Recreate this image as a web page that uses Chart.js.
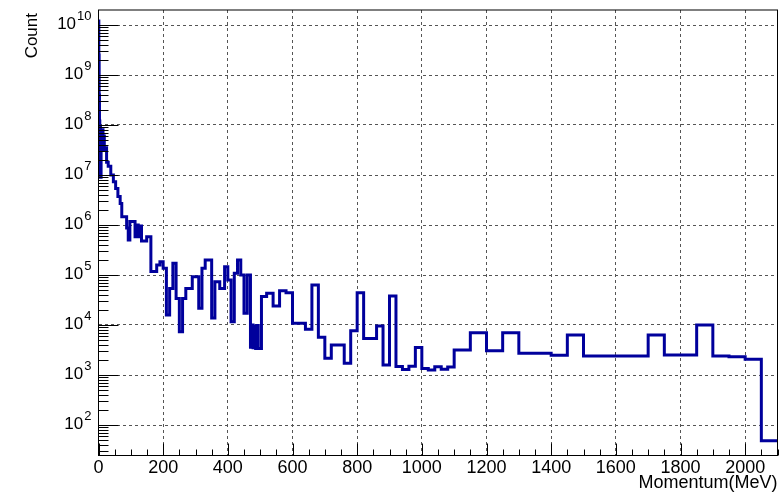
<!DOCTYPE html>
<html>
<head>
<meta charset="utf-8">
<script src="https://cdn.jsdelivr.net/npm/chart.js@4/dist/chart.umd.min.js"></script>
<style>
  html, body { margin: 0; padding: 0; background: #fff; }
  canvas { display: block; }
</style>
</head>
<body>
<canvas id="c" width="779" height="492"></canvas>
<script>
// ---- data (histogram bin edges in MeV and counts per bin) ----
const binEdges = [0,1,2,3,4,6,8,10,12,14,16,18,20,25,30,38,46,53,60,67,72,87,92,97,113,118,123,128,133,149,162,
  180,190,200,210,220,230,240,250,260,270,290,310,320,330,350,360,375,390,400,410,420,430,440,450,460,470,
  474,478,482,486,490,494,504,520,540,560,580,600,640,660,680,700,720,760,780,800,820,860,880,900,
  920,940,960,980,1000,1020,1040,1060,1080,1100,1150,1200,1250,1300,1400,1450,1500,1700,1750,1850,1900,1950,2000,2050,2100];
const binCounts = [1.2e10,2.5e9,4e8,1.2e8,9e7,9e6,6e7,3.2e7,8e7,3.5e7,6e7,3.2e7,3.5e7,1.8e7,1.5e7,1e7,7.3e6,5.4e6,3.7e6,2.7e6,
  1.47e6,8.7e5,5e5,1.17e6,5.8e5,1e6,5.8e5,9.5e5,4.8e5,5.8e5,
  1.17e5,1.58e5,1.85e5,1.36e5,1.58e4,5.4e4,1.71e5,3.4e4,7.3e3,3.4e4,5.4e4,9.25e4,2.16e4,1.36e5,2e5,1.38e4,7.3e4,5.4e4,
  1.47e5,7.9e4,1.16e4,1.08e5,2e5,1e5,1.71e4,1e5,
  3.6e3,1e4,3.5e3,9.5e3,3.4e3,9.8e3,3.4e3,3.7e4,4.3e4,2.4e4,4.85e4,4.43e4,
  1.08e4,8.2e3,6.3e4,5.7e3,2.16e3,4e3,1.71e3,7.7e3,4.4e4,5.4e3,9.5e3,1.58e3,
  3.8e4,1480,1290,1490,3550,1350,1260,1470,1300,1445,
  3162,7020,3060,7020,2720,2480,6310,2400,6310,2510,10000,2400,2320,2060,48.5];

// ---- axes ----
const xMin = 0, xMax = 2100;
const xTickLabels = [0,200,400,600,800,1000,1200,1400,1600,1800,2000];
const xMinorStep = 50;
const yMinLog = 1.39, yMaxLog = 10.3;
const yTickExponents = [2,3,4,5,6,7,8,9,10];
const xTitle = 'Momentum(MeV)';
const yTitle = 'Count';

// histogram outline: point at each lower edge carries that bin's count; last edge repeats the last count
const points = binEdges.map((e, i) => ({ x: e, y: binCounts[Math.min(i, binCounts.length - 1)] }));

const FONT = '"Liberation Sans", Arial, Helvetica, sans-serif';

const rootAxes = {
  id: 'rootAxes',
  afterDraw(chart) {
    const { ctx, chartArea: a, scales: { x, y } } = chart;
    ctx.save();
    ctx.strokeStyle = '#000';
    ctx.lineWidth = 1;
    ctx.strokeRect(a.left, a.top, a.right - a.left, a.bottom - a.top);
    ctx.beginPath();
    for (let v = xMin; v <= xMax; v += xMinorStep) {
      const px = Math.round(x.getPixelForValue(v)) + 0.5;
      const major = xTickLabels.includes(v);
      const len = major ? 12 : 6;
      ctx.moveTo(px, a.bottom);
      ctx.lineTo(px, a.bottom - len);
    }
    for (let e = Math.floor(yMinLog); e <= Math.ceil(yMaxLog); e++) {
      for (let m = 1; m <= 9; m++) {
        const v = m * Math.pow(10, e);
        const lv = Math.log10(v);
        if (lv < yMinLog || lv > yMaxLog) continue;
        const py = Math.round(y.getPixelForValue(v)) + 0.5;
        const len = m === 1 ? 20 : 10;
        ctx.moveTo(a.left, py);
        ctx.lineTo(a.left + len, py);
      }
    }
    ctx.stroke();

    ctx.fillStyle = '#000';
    ctx.font = '18px ' + FONT;
    ctx.textAlign = 'center';
    ctx.textBaseline = 'middle';
    xTickLabels.forEach(v => {
      ctx.fillText(String(v), x.getPixelForValue(v), a.bottom + 12.5);
    });
    ctx.textAlign = 'right';
    ctx.fillText(xTitle, a.right, a.bottom + 28);

    yTickExponents.forEach(n => {
      const py = y.getPixelForValue(Math.pow(10, n));
      const sup = String(n);
      ctx.font = '13px ' + FONT;
      const sw = ctx.measureText(sup).width;
      ctx.font = '17px ' + FONT;
      const bw = ctx.measureText('10').width;
      const right = a.left - 7;
      ctx.textAlign = 'left';
      ctx.textBaseline = 'middle';
      ctx.fillText('10', right - sw - bw - 1, py - 1);
      ctx.font = '13px ' + FONT;
      ctx.fillText(sup, right - sw, py - 8.5);
    });

    ctx.font = '17px ' + FONT;
    ctx.translate(32, a.top + 3);
    ctx.rotate(-Math.PI / 2);
    ctx.textAlign = 'right';
    ctx.textBaseline = 'middle';
    ctx.fillText(yTitle, 0, 0);
    ctx.restore();
  }
};

new Chart(document.getElementById('c'), {
  type: 'line',
  data: {
    datasets: [{
      data: points,
      stepped: 'before',
      borderColor: '#00009c',
      borderWidth: 3,
      pointRadius: 0,
      fill: false,
      tension: 0
    }]
  },
  options: {
    responsive: false,
    animation: false,
    devicePixelRatio: 1,
    layout: { padding: { left: 98.5, right: 1.5, top: 10, bottom: 36.5 } },
    plugins: { legend: { display: false }, tooltip: { enabled: false } },
    scales: {
      x: {
        type: 'linear',
        min: xMin, max: xMax,
        afterBuildTicks: s => { s.ticks = xTickLabels.filter(v => v > xMin).map(v => ({ value: v })); },
        afterFit: s => { s.height = 0; },
        ticks: { display: false },
        grid: { color: '#555', lineWidth: 1, drawTicks: false },
        border: { display: false, dash: [3, 3] }
      },
      y: {
        type: 'logarithmic',
        min: Math.pow(10, yMinLog), max: Math.pow(10, yMaxLog),
        afterBuildTicks: s => { s.ticks = yTickExponents.map(n => ({ value: Math.pow(10, n) })); },
        afterFit: s => { s.width = 0; },
        ticks: { display: false },
        grid: { color: '#555', lineWidth: 1, drawTicks: false },
        border: { display: false, dash: [3, 3] }
      }
    }
  },
  plugins: [rootAxes]
});
</script>
</body>
</html>
